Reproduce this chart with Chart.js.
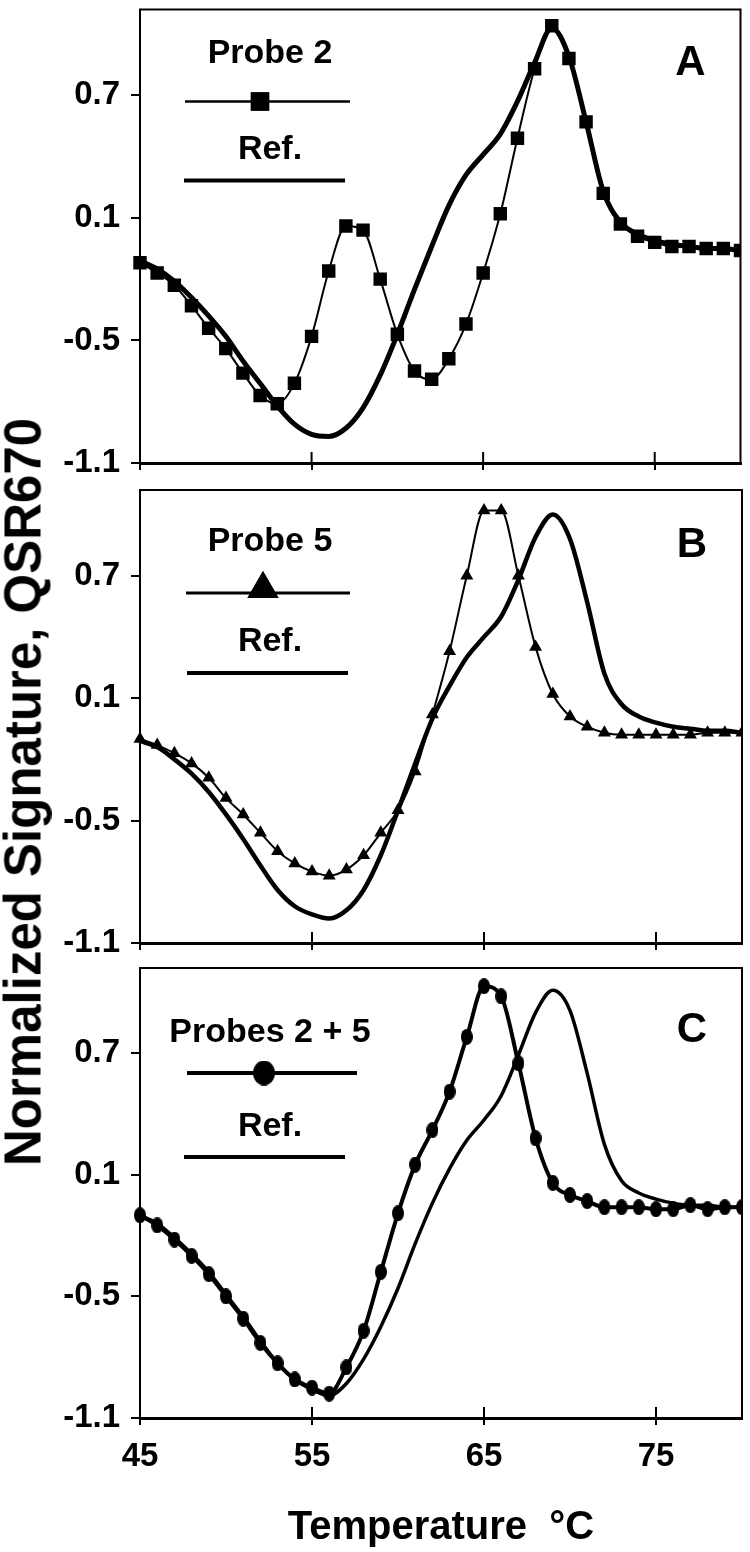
<!DOCTYPE html>
<html>
<head>
<meta charset="utf-8">
<script src="https://cdn.jsdelivr.net/npm/chart.js@4.4.1/dist/chart.umd.min.js"></script>
<style>
html,body{margin:0;padding:0;background:#fff;}
#wrap{position:relative;width:750px;height:1552px;overflow:hidden;background:#fff;}
canvas{position:absolute;left:0;}
#ytitle{position:absolute;left:23px;top:792px;transform:translate(-50%,-50%) rotate(-90deg);white-space:nowrap;font:bold 51px/1 "Liberation Sans",Arial,sans-serif;color:#000;}
</style>
</head>
<body>
<div id="wrap">
<canvas id="cA" width="750" height="480" style="top:0px;width:750px;height:480px"></canvas>
<canvas id="cB" width="750" height="480" style="top:480px;width:750px;height:480px"></canvas>
<canvas id="cC" width="750" height="592" style="top:960px;width:750px;height:592px"></canvas>
<div id="ytitle">Normalized Signature, QSR670</div>
</div>
<script>
// ---- data ----
const temps = [45,46,47,48,49,50,51,52,53,54,55,56,57,58,59,60,61,62,63,64,65,66,67,68,69,70,71,72,73,74,75,76,77,78,79,80];

const probe2 = [-0.12,-0.17,-0.23,-0.33,-0.44,-0.54,-0.66,-0.77,-0.81,-0.71,-0.48,-0.16,0.06,0.04,-0.20,-0.47,-0.65,-0.69,-0.59,-0.42,-0.17,0.12,0.49,0.83,1.04,0.88,0.57,0.22,0.07,0.01,-0.02,-0.04,-0.04,-0.05,-0.05,-0.06];
const refA   = [-0.11,-0.15,-0.21,-0.29,-0.38,-0.48,-0.60,-0.71,-0.82,-0.91,-0.96,-0.97,-0.93,-0.83,-0.67,-0.47,-0.25,-0.04,0.16,0.31,0.41,0.51,0.67,0.86,1.03,0.89,0.57,0.23,0.08,0.02,-0.01,-0.03,-0.04,-0.05,-0.05,-0.06];

const probe5 = [-0.10,-0.13,-0.17,-0.22,-0.29,-0.39,-0.47,-0.56,-0.65,-0.71,-0.75,-0.77,-0.74,-0.67,-0.56,-0.45,-0.26,0.02,0.33,0.70,1.02,1.02,0.70,0.35,0.12,0.01,-0.04,-0.07,-0.08,-0.08,-0.08,-0.08,-0.08,-0.07,-0.07,-0.07];
const refB   = [-0.11,-0.14,-0.20,-0.27,-0.36,-0.47,-0.59,-0.72,-0.84,-0.92,-0.96,-0.98,-0.94,-0.84,-0.67,-0.45,-0.22,0.00,0.16,0.30,0.40,0.50,0.68,0.89,1.00,0.88,0.57,0.22,0.07,0.01,-0.02,-0.04,-0.05,-0.06,-0.06,-0.07];

const probes25 = [-0.10,-0.15,-0.22,-0.30,-0.39,-0.50,-0.61,-0.73,-0.83,-0.91,-0.95,-0.98,-0.85,-0.67,-0.38,-0.09,0.15,0.32,0.51,0.78,1.03,0.98,0.65,0.28,0.06,0.00,-0.03,-0.06,-0.06,-0.06,-0.07,-0.07,-0.05,-0.07,-0.06,-0.06];
const refC     = [-0.10,-0.14,-0.21,-0.29,-0.38,-0.49,-0.60,-0.72,-0.83,-0.91,-0.96,-0.99,-0.93,-0.81,-0.65,-0.46,-0.24,-0.04,0.13,0.27,0.37,0.49,0.69,0.90,1.01,0.91,0.60,0.25,0.07,0.01,-0.02,-0.04,-0.05,-0.05,-0.06,-0.06];

const xTickValues = [45,55,65,75];
const yTickValues = [-1.1,-0.5,0.1,0.7];
const panelLetters = ['A','B','C'];
const probeLabels = ['Probe 2','Probe 5','Probes 2 + 5'];
const refLabel = 'Ref.';
const xTitle = 'Temperature  \u00B0C';

const FONT = '"Liberation Sans", Arial, Helvetica, sans-serif';

// filled ellipse marker image (style only)
function ellipseMarker(w, h) {
  const c = document.createElement('canvas');
  c.width = w; c.height = h;
  const g = c.getContext('2d');
  g.fillStyle = '#000';
  g.beginPath();
  g.ellipse(w / 2, h / 2, w / 2, h / 2, 0, 0, Math.PI * 2);
  g.fill();
  return c;
}
const dotMarker = ellipseMarker(12, 16);
const dotLegend = ellipseMarker(22, 25);

const panelDecor = {
  id: 'panelDecor',
  afterDatasetsDraw(chart, args, o) {
    const {ctx, chartArea: a, scales} = chart;
    const x = scales.x;
    ctx.save();
    ctx.strokeStyle = '#000';
    ctx.fillStyle = '#000';
    // frame
    ctx.lineWidth = 2;
    ctx.strokeRect(a.left, a.top, a.right - a.left, a.bottom - a.top);
    // inner part of x ticks
    xTickValues.forEach(v => {
      const px = x.getPixelForValue(v);
      ctx.beginPath();
      ctx.moveTo(px, a.bottom);
      ctx.lineTo(px, a.bottom - 11);
      ctx.stroke();
    });
    // panel letter
    ctx.font = 'bold 42px ' + FONT;
    ctx.textAlign = 'center';
    ctx.textBaseline = 'middle';
    ctx.fillText(o.letter, a.right - 50, a.top + o.letterY);
    // legend
    const L = o.legend;
    const ds0 = chart.data.datasets[0];
    const ds1 = chart.data.datasets[1];
    ctx.font = 'bold 34px ' + FONT;
    ctx.fillText(ds0.label, a.left + L.tx, a.top + L.t1);
    ctx.fillText(ds1.label, a.left + L.tx, a.top + L.t2);
    ctx.lineWidth = L.w1;
    ctx.beginPath();
    ctx.moveTo(a.left + L.l1[0], a.top + L.l1[2]);
    ctx.lineTo(a.left + L.l1[1], a.top + L.l1[2]);
    ctx.stroke();
    Chart.helpers.drawPoint(ctx, {pointStyle: L.ps || ds0.pointStyle, radius: L.mr, borderWidth: 0}, a.left + L.mx, a.top + L.l1[2] + (L.my || 0));
    ctx.fill();
    ctx.lineWidth = L.w2;
    ctx.beginPath();
    ctx.moveTo(a.left + L.l2[0], a.top + L.l2[2]);
    ctx.lineTo(a.left + L.l2[1], a.top + L.l2[2]);
    ctx.stroke();
    ctx.restore();
  }
};

function series(arr) { return temps.map((t, i) => ({x: t, y: arr[i]})); }

function panel(id, c) {
  return new Chart(document.getElementById(id), {
    type: 'line',
    data: {
      datasets: [
        {label: c.probeLabel, data: series(c.probe), borderColor: '#000', backgroundColor: '#000',
         borderWidth: c.probeWidth, pointStyle: c.pointStyle, pointRadius: c.pointRadius,
         pointBorderWidth: 0, pointBackgroundColor: '#000', cubicInterpolationMode: 'monotone',
         clip: {left: false, top: false, right: 0, bottom: false}, order: 1},
        {label: refLabel, data: series(c.ref), borderColor: '#000', borderWidth: c.refWidth,
         pointRadius: 0, cubicInterpolationMode: 'monotone',
         clip: {left: false, top: false, right: 0, bottom: false}, order: 2}
      ]
    },
    options: {
      responsive: false, animation: false, devicePixelRatio: 1,
      layout: {padding: {top: c.padTop, right: 8, left: 0, bottom: 0}},
      plugins: {legend: {display: false}, tooltip: {enabled: false},
        panelDecor: {letter: c.letter, letterY: c.letterY, legend: c.legend}},
      scales: {
        x: {type: 'linear', min: 45, max: 80,
          afterBuildTicks: s => { s.ticks = xTickValues.map(v => ({value: v})); },
          afterFit: s => { s.height = c.xHeight; s.paddingLeft = 0; s.paddingRight = 0; },
          grid: {drawOnChartArea: false, drawTicks: true, tickLength: 7, color: '#000', lineWidth: 2},
          border: {display: true, color: '#000', width: 3},
          ticks: {display: c.showX, color: '#000', font: {family: FONT, size: 33, weight: 'bold'}, padding: 12, maxRotation: 0},
          title: {display: c.showX, text: xTitle, color: '#000', font: {family: FONT, size: 40, weight: 'bold'}, padding: {top: 0, bottom: 0}}
        },
        y: {min: -1.1, max: 1.12,
          afterBuildTicks: s => { s.ticks = yTickValues.map(v => ({value: v})); },
          afterFit: s => { s.width = 140; s.paddingTop = 0; s.paddingBottom = 0; },
          grid: {drawOnChartArea: false, drawTicks: true, tickLength: 9, color: '#000', lineWidth: 2},
          border: {display: true, color: '#000', width: 2},
          ticks: {color: '#000', font: {family: FONT, size: 33, weight: 'bold'}, padding: 11,
            callback: v => Number(v).toFixed(1)}
        }
      }
    },
    plugins: [panelDecor]
  });
}

panel('cA', {probeLabel: probeLabels[0], probe: probe2, ref: refA, letter: panelLetters[0], letterY: 54,
  pointStyle: 'rect', pointRadius: 9.5, probeWidth: 2, refWidth: 5,
  padTop: 8, xHeight: 17, showX: false,
  legend: {tx: 130, t1: 44, t2: 140, l1: [45, 210, 92], w1: 2.5, mx: 120, mr: 13, l2: [44, 205, 171], w2: 4}});

panel('cB', {probeLabel: probeLabels[1], probe: probe5, ref: refB, letter: panelLetters[1], letterY: 55,
  pointStyle: 'triangle', pointRadius: 7.5, probeWidth: 2, refWidth: 4.5,
  padTop: 10, xHeight: 17, showX: false,
  legend: {tx: 130, t1: 52, t2: 152, l1: [46, 210, 103], w1: 3, mx: 123, mr: 18, my: -4, l2: [47, 208, 183], w2: 4}});

panel('cC', {probeLabel: probeLabels[2], probe: probes25, ref: refC, letter: panelLetters[2], letterY: 62,
  pointStyle: dotMarker, pointRadius: 7, probeWidth: 4, refWidth: 3.5,
  padTop: 8, xHeight: 134, showX: true,
  legend: {tx: 130, t1: 65, t2: 159, l1: [47, 217, 105], w1: 4, mx: 124, mr: 12, ps: dotLegend, l2: [44, 205, 189], w2: 4}});
</script>
</body>
</html>
